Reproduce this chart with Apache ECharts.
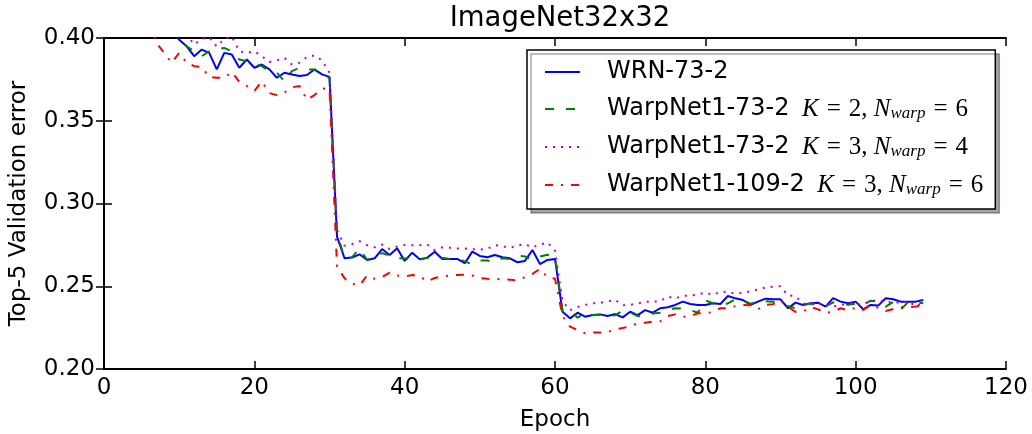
<!DOCTYPE html>
<html>
<head>
<meta charset="utf-8">
<script src="https://cdn.jsdelivr.net/npm/echarts@6/dist/echarts.min.js"></script>
<style>
html,body{margin:0;padding:0;background:#fff;}
#chart{width:1032px;height:434px;}
</style>
</head>
<body>
<div id="chart"></div>
<script>
// ---- data ----
const seriesNames = [
  'WRN-73-2',
  'WarpNet1-73-2 K=2, Nwarp=6',
  'WarpNet1-73-2 K=3, Nwarp=4',
  'WarpNet1-109-2 K=3, Nwarp=6'
];
const xTicks = [0, 20, 40, 60, 80, 100, 120];
const yTicks = [0.20, 0.25, 0.30, 0.35, 0.40];

const wrnStart = 9;
const wrnErr = [
  0.405, 0.399, 0.395, 0.389, 0.393, 0.391, 0.381, 0.391, 0.390, 0.382,
  0.387, 0.382, 0.384, 0.381, 0.376, 0.379, 0.378, 0.377, 0.3776, 0.381,
  0.378, 0.3765, 0.280, 0.2669, 0.2673, 0.2693, 0.2659, 0.2669, 0.2725, 0.2689,
  0.2729, 0.2653, 0.2703, 0.2663, 0.2673, 0.2709, 0.2665, 0.2665, 0.2665, 0.2639,
  0.2709, 0.2683, 0.2675, 0.2689, 0.2675, 0.2669, 0.2645, 0.2653, 0.2719, 0.2634,
  0.2659, 0.2665, 0.2346, 0.2306, 0.2340, 0.2316, 0.2326, 0.2330, 0.2320, 0.2332,
  0.2312, 0.2346, 0.2326, 0.2356, 0.2340, 0.2367, 0.2373, 0.2387, 0.2407, 0.2393,
  0.2387, 0.2387, 0.2397, 0.2393, 0.2441, 0.2427, 0.2417, 0.2387, 0.2407, 0.2425,
  0.2422, 0.2421, 0.2367, 0.2401, 0.2387, 0.2397, 0.2401, 0.2377, 0.2428, 0.2407,
  0.2397, 0.2407, 0.2361, 0.2387, 0.2383, 0.2428, 0.2421, 0.2407, 0.2407, 0.2407,
  0.2417
];

const warp732k2Start = 9;
const warp732k2Err = [
  0.406, 0.400, 0.395, 0.392, 0.389, 0.392, 0.393, 0.394, 0.392, 0.387,
  0.386, 0.385, 0.383, 0.380, 0.379, 0.3738, 0.380, 0.382, 0.381, 0.381,
  0.377, 0.376, 0.282, 0.2670, 0.2675, 0.2729, 0.2659, 0.2695, 0.2700, 0.2685,
  0.2669, 0.2668, 0.2665, 0.2660, 0.2672, 0.2680, 0.2672, 0.2665, 0.2668, 0.2650,
  0.2632, 0.2655, 0.2655, 0.2645, 0.2669, 0.2665, 0.2685, 0.2680, 0.2659, 0.2680,
  0.2690, 0.2685, 0.2350, 0.2355, 0.2310, 0.2340, 0.2325, 0.2328, 0.2320, 0.2325,
  0.2352, 0.2340, 0.2320, 0.2318, 0.2336, 0.2340, 0.2358, 0.2367, 0.2365, 0.2356,
  0.2340, 0.2415, 0.2397, 0.2380, 0.2397, 0.2421, 0.2415, 0.2395, 0.2405, 0.2410,
  0.2407, 0.2390, 0.2380, 0.2367, 0.2387, 0.2395, 0.2395, 0.2378, 0.2403, 0.2400,
  0.2388, 0.2395, 0.2387, 0.2413, 0.2405, 0.2377, 0.2405, 0.2358, 0.2405, 0.2402,
  0.2398
];

const warp732k3Start = 10;
const warp732k3Err = [
  0.405, 0.402, 0.396, 0.3995, 0.4005, 0.3948, 0.3995, 0.401, 0.392, 0.391,
  0.392, 0.389, 0.3855, 0.3865, 0.388, 0.384, 0.385, 0.3885, 0.3895, 0.3865,
  0.379, 0.284, 0.2745, 0.2755, 0.2772, 0.2748, 0.2735, 0.2752, 0.2725, 0.2740,
  0.2750, 0.2748, 0.2748, 0.2752, 0.2718, 0.2735, 0.2733, 0.2728, 0.2728, 0.2724,
  0.2722, 0.2726, 0.2748, 0.2742, 0.2732, 0.2745, 0.2755, 0.2735, 0.2752, 0.2765,
  0.2715, 0.2410, 0.2355, 0.2375, 0.2387, 0.2397, 0.2400, 0.2407, 0.2418, 0.2385,
  0.2388, 0.2395, 0.2407, 0.2407, 0.2410, 0.2437, 0.2427, 0.2442, 0.2443, 0.2450,
  0.2462, 0.2448, 0.2467, 0.2465, 0.2455, 0.2460, 0.2470, 0.2480, 0.2492, 0.2497,
  0.2500, 0.2445, 0.2440, 0.2395, 0.2392, 0.2390, 0.2400, 0.2378, 0.2385, 0.2399,
  0.2390, 0.2395, 0.2407, 0.2418, 0.2402, 0.2407, 0.2398, 0.2410, 0.2378, 0.2400
];

const warp1092Start = 6;
const warp1092Err = [
  0.410, 0.397, 0.391, 0.385, 0.391, 0.385, 0.383, 0.3825, 0.3764, 0.376,
  0.3758, 0.3795, 0.3735, 0.371, 0.368, 0.3738, 0.3667, 0.3655, 0.367, 0.3702,
  0.371, 0.3627, 0.3655, 0.3695, 0.369, 0.262, 0.2548, 0.2515, 0.2505, 0.2565,
  0.2545, 0.2555, 0.2582, 0.2565, 0.2558, 0.2568, 0.2562, 0.2528, 0.2550, 0.2560,
  0.2565, 0.2568, 0.2570, 0.2565, 0.2550, 0.2545, 0.2542, 0.2544, 0.2540, 0.2535,
  0.2555, 0.2575, 0.2605, 0.2555, 0.2545, 0.2320, 0.2256, 0.2235, 0.2216, 0.2220,
  0.2220, 0.2222, 0.2240, 0.2248, 0.2258, 0.2276, 0.2280, 0.2286, 0.2288, 0.2320,
  0.2330, 0.2315, 0.2318, 0.2337, 0.2335, 0.2345, 0.2367, 0.2367, 0.2380, 0.2387,
  0.2385, 0.2360, 0.2387, 0.2392, 0.2413, 0.2375, 0.2345, 0.2347, 0.2375, 0.2360,
  0.2340, 0.2345, 0.2367, 0.2355, 0.2370, 0.2357, 0.2387, 0.2370, 0.2350, 0.2362,
  0.2373, 0.2373, 0.2377, 0.2385
];

// ---- chart ----
function pairs(start, vals) { return vals.map((v, i) => [start + i, v]); }

const legendRich = {
  n: { fontFamily: 'DejaVu Sans', fontSize: 24, color: '#000', padding: [0, 0, 0, 22], lineHeight: 26 },
  i: { fontFamily: 'Liberation Serif', fontStyle: 'italic', fontSize: 25, color: '#000', lineHeight: 26 },
  r: { fontFamily: 'Liberation Serif', fontSize: 25, color: '#000', lineHeight: 26 },
  e: { fontFamily: 'Liberation Serif', fontSize: 25, color: '#000', padding: [0, 8, 0, 8], lineHeight: 26 },
  s: { fontFamily: 'Liberation Serif', fontStyle: 'italic', fontSize: 17, color: '#000', verticalAlign: 'bottom', lineHeight: 15 }
};
function mathPart(k, n) {
  return '{r|  }{i|K}{e|=}{r|' + k + ',}{r| }{i|N}{s|warp}{e|=}{r|' + n + '}';
}
const legendLabels = {};
legendLabels[seriesNames[0]] = '{n|WRN-73-2}';
legendLabels[seriesNames[1]] = '{n|WarpNet1-73-2}' + mathPart(2, 6);
legendLabels[seriesNames[2]] = '{n|WarpNet1-73-2}' + mathPart(3, 4);
legendLabels[seriesNames[3]] = '{n|WarpNet1-109-2}' + mathPart(3, 6);

const axisFont = { fontFamily: 'DejaVu Sans', fontSize: 23, color: '#000' };
const spine = { lineStyle: { color: '#000', width: 2 } };
const tick = { inside: true, length: 8, lineStyle: { color: '#000', width: 1.5 } };

const chart = echarts.init(document.getElementById('chart'), null, { renderer: 'canvas' });
chart.setOption({
  animation: false,
  backgroundColor: '#fff',
  title: {
    text: 'ImageNet32x32', left: 555, top: 0, textAlign: 'center',
    textStyle: { fontFamily: 'DejaVu Sans', fontSize: 27.5, fontWeight: 'normal', color: '#000' }
  },
  grid: { left: 104, right: 26, top: 38, bottom: 65, containLabel: false, outerBoundsMode: 'none' },
  xAxis: [
    { type: 'value', position: 'bottom', min: xTicks[0], max: xTicks[xTicks.length - 1], interval: 20,
      name: 'Epoch', nameLocation: 'middle', nameGap: 40, nameTextStyle: axisFont,
      axisLine: spine, axisTick: tick, splitLine: { show: false },
      axisLabel: Object.assign({ margin: 8 }, axisFont) },
    { type: 'value', position: 'top', min: xTicks[0], max: xTicks[xTicks.length - 1], interval: 20,
      axisLine: spine, axisTick: tick, splitLine: { show: false }, axisLabel: { show: false } }
  ],
  yAxis: [
    { type: 'value', position: 'left', min: yTicks[0], max: yTicks[yTicks.length - 1], interval: 0.05,
      name: 'Top-5 Validation error', nameLocation: 'middle', nameGap: 73, nameTextStyle: axisFont,
      axisLine: spine, axisTick: tick, splitLine: { show: false },
      axisLabel: Object.assign({ margin: 9, formatter: v => v.toFixed(2) }, axisFont) },
    { type: 'value', position: 'right', min: yTicks[0], max: yTicks[yTicks.length - 1], interval: 0.05,
      axisLine: spine, axisTick: tick, splitLine: { show: false }, axisLabel: { show: false } }
  ],
  legend: {
    orient: 'vertical', left: 527, top: 50,
    padding: [10, 12, 11, 17], itemGap: 12.5, itemWidth: 35, itemHeight: 14,
    backgroundColor: '#fff', borderColor: '#000', borderWidth: 1.5, borderRadius: 0,
    shadowColor: 'rgba(0,0,0,0.35)', shadowBlur: 0, shadowOffsetX: 4, shadowOffsetY: 4,
    itemStyle: { opacity: 0 },
    data: seriesNames,
    formatter: name => legendLabels[name],
    textStyle: { rich: legendRich }
  },
  series: [
    { name: seriesNames[0], type: 'line', data: pairs(wrnStart, wrnErr), symbol: 'none', clip: true,
      lineStyle: { color: '#0000ff', width: 2 }, itemStyle: { color: '#0000ff' } },
    { name: seriesNames[1], type: 'line', data: pairs(warp732k2Start, warp732k2Err), symbol: 'none', clip: true,
      lineStyle: { color: '#008000', width: 2, type: [9, 12] }, itemStyle: { color: '#008000' } },
    { name: seriesNames[2], type: 'line', data: pairs(warp732k3Start, warp732k3Err), symbol: 'none', clip: true,
      lineStyle: { color: '#bf00bf', width: 2, type: [2, 6] }, itemStyle: { color: '#bf00bf' } },
    { name: seriesNames[3], type: 'line', data: pairs(warp1092Start, warp1092Err), symbol: 'none', clip: true,
      lineStyle: { color: '#ff0000', width: 2, type: [8, 8, 2, 8] }, itemStyle: { color: '#ff0000' } }
  ]
});
</script>
</body>
</html>
